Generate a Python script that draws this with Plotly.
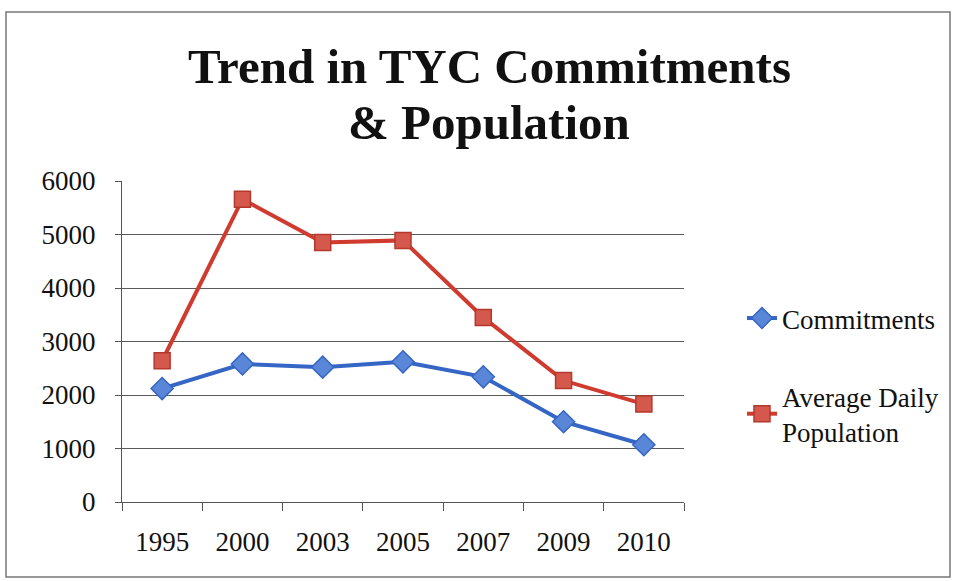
import plotly.graph_objects as go

years = ["1995", "2000", "2003", "2005", "2007", "2009", "2010"]
commitments = [2120, 2580, 2520, 2620, 2340, 1500, 1070]
avg_daily_pop = [2640, 5660, 4850, 4890, 3450, 2270, 1830]
title_lines = ["Trend in TYC Commitments", "& Population"]

W, H = 956, 581
L, R, T, B = 122, 272, 181, 79

fig = go.Figure()
fig.add_trace(go.Scatter(
    x=years, y=commitments, name="Commitments", mode="lines+markers",
    legendgroup="a",
    line=dict(color="#3565C5", width=4),
    marker=dict(symbol="diamond", size=17, color="#5A86D8",
                line=dict(color="#3565C5", width=1.5)),
))
fig.add_trace(go.Scatter(
    x=years, y=avg_daily_pop, name="Average Daily<br>Population", mode="lines+markers",
    legendgroup="b",
    line=dict(color="#CF3B2F", width=4),
    marker=dict(symbol="square", size=16, color="#D4594C",
                line=dict(color="#B5382D", width=1.5)),
))

pw, ph = W - L - R, H - T - B
def px(x):
    return (x - L) / pw
def py(y):
    return (H - B - y) / ph

annotations = []
for txt, yc in zip(title_lines, [66, 122]):
    annotations.append(dict(
        text="<b>" + txt + "</b>", xref="paper", yref="paper",
        x=px(489), y=py(yc), xanchor="center", yanchor="middle",
        showarrow=False,
        font=dict(family="Liberation Serif", size=49, color="#111111"),
    ))

fig.update_layout(
    width=W, height=H,
    margin=dict(l=L, r=R, t=T, b=B),
    paper_bgcolor="white", plot_bgcolor="white",
    xaxis=dict(
        type="category", range=[-0.5, 6.5],
        showgrid=False, showline=True, linecolor="#555555", linewidth=1.2,
        ticks="outside", tickson="boundaries", ticklen=8, tickcolor="#555555",
        ticklabelstandoff=15,
        tickfont=dict(family="Liberation Serif", size=27, color="#111111"),
    ),
    yaxis=dict(
        range=[0, 6000], dtick=1000,
        showgrid=True, gridcolor="#5a5a5a", gridwidth=1,
        showline=True, linecolor="#555555", linewidth=1.2,
        ticks="outside", ticklen=6, tickcolor="#555555",
        ticklabelstandoff=14,
        tickfont=dict(family="Liberation Serif", size=27, color="#111111"),
        zeroline=False,
    ),
    legend=dict(
        x=px(742), xanchor="left", y=py(294), yanchor="top",
        font=dict(family="Liberation Serif", size=27, color="#111111"),
        tracegroupgap=40, bgcolor="rgba(0,0,0,0)",
    ),
    showlegend=True,
    annotations=annotations,
    shapes=[dict(
        type="rect", xref="paper", yref="paper",
        x0=px(6), x1=px(950), y0=py(577), y1=py(12),
        line=dict(color="#777777", width=1.5), fillcolor="rgba(0,0,0,0)",
        layer="below",
    )],
)

fig.write_html("out.html")
